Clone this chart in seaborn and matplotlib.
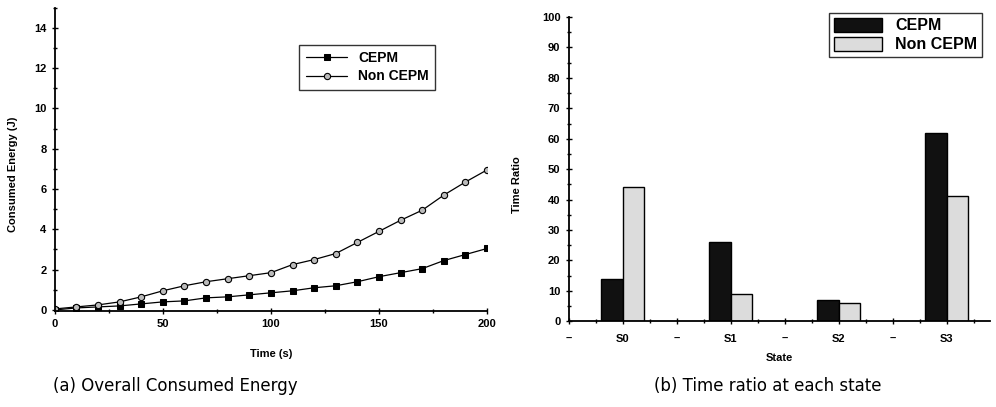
import matplotlib
matplotlib.use('Agg')
import matplotlib.pyplot as plt
from matplotlib.ticker import MultipleLocator
import pandas as pd
import seaborn as sns

# (a) consumed energy over time
time_s = [0, 10, 20, 30, 40, 50, 60, 70, 80, 90, 100,
          110, 120, 130, 140, 150, 160, 170, 180, 190, 200]
energy_cepm = [0.0, 0.1, 0.15, 0.2, 0.3, 0.4, 0.45, 0.6, 0.65, 0.75, 0.85,
               0.95, 1.1, 1.2, 1.4, 1.65, 1.85, 2.05, 2.45, 2.75, 3.05]
energy_non = [0.05, 0.15, 0.25, 0.4, 0.65, 0.95, 1.2, 1.4, 1.55, 1.7, 1.85,
              2.25, 2.5, 2.8, 3.35, 3.9, 4.45, 4.95, 5.7, 6.35, 6.95]

# (b) time ratio per state
states = ['S0', 'S1', 'S2', 'S3']
ratio_cepm = [14, 26, 7, 62]
ratio_non = [44, 9, 6, 41]
slot_order = ['g0', 'S0', 'g1', 'S1', 'g2', 'S2', 'g3', 'S3']
slot_labels = ['–', 'S0', '–', 'S1', '–', 'S2', '–', 'S3']

sns.set_style('ticks')
plt.rcParams['font.family'] = ['Liberation Sans', 'DejaVu Sans']
plt.rcParams['font.weight'] = 'bold'
plt.rcParams.update({'text.color': 'black', 'axes.labelcolor': 'black',
                     'xtick.color': 'black', 'ytick.color': 'black',
                     'axes.edgecolor': 'black'})

fig = plt.figure(figsize=(9.96, 4.07), dpi=100)
ax1 = fig.add_axes([0.055, 0.236, 0.434, 0.745])
ax2 = fig.add_axes([0.571, 0.211, 0.423, 0.747])

# ---- left: line chart
line_df = pd.DataFrame({
    'time': time_s * 2,
    'energy': energy_cepm + energy_non,
    'series': ['CEPM'] * len(time_s) + ['Non CEPM'] * len(time_s),
})
sns.lineplot(data=line_df[line_df.series == 'CEPM'], x='time', y='energy',
             color='black', lw=0.9, marker='s', markersize=4.5,
             markeredgecolor='black', ax=ax1, label='CEPM')
sns.lineplot(data=line_df[line_df.series == 'Non CEPM'], x='time', y='energy',
             color='black', lw=0.9, marker='o', markersize=4.5,
             markerfacecolor='#bbbbbb', markeredgecolor='black',
             markeredgewidth=0.8, ax=ax1, label='Non CEPM')
ax1.set_xlim(0, 200)
ax1.set_ylim(-0.05, 15)
ax1.xaxis.set_major_locator(MultipleLocator(50))
ax1.xaxis.set_minor_locator(MultipleLocator(25))
ax1.yaxis.set_minor_locator(MultipleLocator(1))
ax1.set_yticks([0, 2, 4, 6, 8, 10, 12, 14])
ax1.set_xlabel('Time (s)', fontsize=8, fontweight='bold', labelpad=14)
ax1.set_ylabel('Consumed Energy (J)', fontsize=8, fontweight='bold')
ax1.yaxis.set_label_coords(-0.085, 0.45)
ax1.tick_params(which='both', direction='inout', labelsize=8, width=1)
ax1.tick_params(which='major', length=5)
ax1.tick_params(which='minor', length=3)
sns.despine(ax=ax1)
for s in ['left', 'bottom']:
    ax1.spines[s].set_linewidth(1.3)
leg1 = ax1.legend(loc='upper left', bbox_to_anchor=(0.55, 0.90), frameon=True,
                  fancybox=False, edgecolor='black', fontsize=10,
                  handlelength=3.0, borderpad=0.45, labelspacing=0.3)
leg1.get_frame().set_linewidth(1.0)

# ---- right: grouped bars
bar_df = pd.DataFrame({
    'state': states * 2,
    'ratio': ratio_cepm + ratio_non,
    'series': ['CEPM'] * 4 + ['Non CEPM'] * 4,
})
sns.barplot(data=bar_df, x='state', y='ratio', hue='series', order=slot_order,
            hue_order=['CEPM', 'Non CEPM'],
            palette={'CEPM': '#111111', 'Non CEPM': '#dcdcdc'},
            edgecolor='black', linewidth=1.0, width=0.8, ax=ax2)
ax2.set_xlim(0, 7.8)
ax2.set_ylim(0, 100)
ax2.set_xticks(range(len(slot_labels)))
ax2.set_xticklabels(slot_labels)
ax2.xaxis.set_minor_locator(MultipleLocator(0.5))
ax2.yaxis.set_major_locator(MultipleLocator(10))
ax2.yaxis.set_minor_locator(MultipleLocator(5))
ax2.set_xlabel('State', fontsize=8, fontweight='bold', labelpad=6)
ax2.set_ylabel('Time Ratio', fontsize=8, fontweight='bold')
ax2.yaxis.set_label_coords(-0.11, 0.45)
ax2.tick_params(which='both', direction='inout', labelsize=8, width=1)
ax2.tick_params(which='major', length=5)
ax2.tick_params(which='minor', length=3)
ax2.tick_params(axis='x', pad=7)
sns.despine(ax=ax2)
for s in ['left', 'bottom']:
    ax2.spines[s].set_linewidth(1.3)
leg2 = ax2.legend(loc='upper left', bbox_to_anchor=(0.60, 1.04), frameon=True,
                  fancybox=False, edgecolor='black', fontsize=11.5,
                  handlelength=3.0, handleheight=1.0, borderpad=0.3,
                  labelspacing=0.2, title=None)
leg2.get_frame().set_linewidth(1.0)

# captions
fig.text(0.176, 0.052, '(a) Overall Consumed Energy', ha='center', va='center',
         fontsize=12, fontweight='normal', family=['DejaVu Sans'])
fig.text(0.771, 0.052, '(b) Time ratio at each state', ha='center', va='center',
         fontsize=12, fontweight='normal', family=['DejaVu Sans'])

fig.savefig('out.png', dpi=100)
